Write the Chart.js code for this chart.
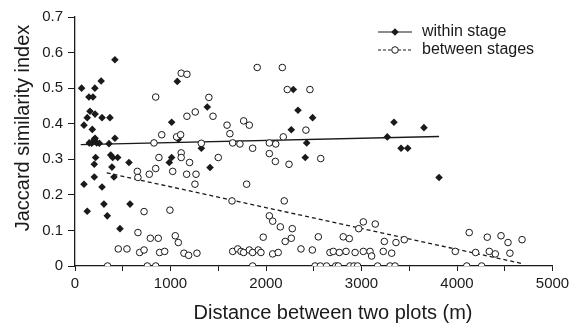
<!DOCTYPE html>
<html><head><meta charset="utf-8">
<script src="https://cdn.jsdelivr.net/npm/chart.js@4/dist/chart.umd.min.js"></script>
<style>html,body{margin:0;padding:0;background:#fff}</style>
</head><body>
<canvas id="c" width="574" height="325" style="width:574px;height:325px;display:block"></canvas>
<script>
// ---- data ----
const seriesNames = ['within stage', 'between stages'];
const axisTitles = ['Distance between two plots (m)', 'Jaccard similarity index'];
const xTickValues = [0, 1000, 2000, 3000, 4000, 5000];
const yTickValues = [0, 0.1, 0.2, 0.3, 0.4, 0.5, 0.6, 0.7];

const withinX = [69,418,274,208,146,188,157,210,128,283,366,94,181,210,418,149,175,202,227,255,356,216,202,374,395,447,387,565,202,408,94,283,303,576,128,338,471,
  1012,1071,1012,987,1082,1385,1323,1414,2286,2335,2265,2426,2411,2488,3340,3654,3270,3414,3484,3812];
const withinY = [0.50,0.58,0.52,0.50,0.475,0.475,0.435,0.427,0.417,0.417,0.417,0.396,0.384,0.359,0.359,0.346,0.345,0.356,0.346,0.345,0.344,0.305,0.286,0.312,0.305,0.305,0.278,0.291,0.250,0.250,0.230,0.222,0.174,0.174,0.154,0.141,0.105,
  0.404,0.519,0.305,0.291,0.356,0.447,0.331,0.277,0.496,0.438,0.383,0.346,0.305,0.417,0.404,0.389,0.363,0.331,0.331,0.249];

const betweenX = [845,1112,1172,1172,908,1064,1106,827,653,659,778,845,879,1023,1112,1112,1169,1200,
  723,994,659,789,872,1050,1082,453,544,677,723,886,939,1141,1190,341,757,845,
  1908,2171,2223,2460,1402,1259,1445,1592,1766,1825,1622,2181,2418,
  1323,1651,1727,1860,2035,2102,2035,2098,2241,1500,1267,1256,1797,1644,2191,2035,2070,2150,2275,1971,2265,2201,2366,
  1277,1651,1704,1738,1766,1825,1860,1919,1947,2070,2128,1860,
  2573,3019,3144,2971,2548,2809,2872,3239,3361,3448,2485,2670,2705,2768,2838,2933,3019,3089,3106,3228,3316,
  2513,2569,2634,2730,2757,2879,2921,2959,3169,3299,3351,
  4128,4317,4461,4534,4681,3982,4195,4338,4401,4554,4102,4258];
const betweenY = [0.475,0.542,0.539,0.421,0.369,0.363,0.369,0.346,0.266,0.249,0.258,0.274,0.305,0.266,0.318,0.305,0.258,0.291,
  0.153,0.157,0.094,0.078,0.078,0.085,0.066,0.048,0.048,0.038,0.045,0.038,0.041,0.036,0.030,0,0,0,
  0.558,0.558,0.496,0.496,0.474,0.433,0.421,0.396,0.408,0.396,0.372,0.363,0.382,
  0.345,0.346,0.343,0.331,0.346,0.343,0.316,0.294,0.286,0.305,0.258,0.230,0.230,0.183,0.183,0.141,0.126,0.110,0.105,0.081,0.078,0.069,0.048,
  0.036,0.041,0.048,0.041,0.038,0.045,0.038,0.045,0.038,0.034,0.038,0,
  0.302,0.124,0.118,0.105,0.082,0.082,0.077,0.069,0.066,0.074,0.045,0.038,0.041,0.038,0.041,0.038,0.041,0.041,0.028,0.041,0.036,
  0,0,0,0,0,0,0,0,0,0,0,
  0.094,0.081,0.085,0.066,0.074,0.041,0.038,0.041,0.034,0.036,0,0];

// fitted trend lines (end points)
const withinTrendX = [60, 3812];
const withinTrendY = [0.341, 0.364];
const betweenTrendX = [332, 4680];
const betweenTrendY = [0.262, 0.007];

const toPts = (xs, ys) => xs.map((x, i) => ({x, y: ys[i]}));
const INK = '#1a1a1a';
const FONT = "'Liberation Sans', Arial, sans-serif";

const legendPlugin = {
  id: 'customLegend',
  afterDraw(chart) {
    const ctx = chart.ctx;
    const rows = [
      {label: seriesNames[0], dash: [], style: 'diamond', y: 32},
      {label: seriesNames[1], dash: [3, 2], style: 'circle', y: 50}
    ];
    ctx.save();
    rows.forEach(r => {
      ctx.strokeStyle = INK; ctx.lineWidth = 1.2; ctx.setLineDash(r.dash);
      ctx.beginPath(); ctx.moveTo(378, r.y); ctx.lineTo(412, r.y); ctx.stroke();
      ctx.setLineDash([]);
      ctx.beginPath();
      if (r.style === 'diamond') {
        ctx.moveTo(395, r.y - 3.8); ctx.lineTo(398.8, r.y); ctx.lineTo(395, r.y + 3.8); ctx.lineTo(391.2, r.y); ctx.closePath();
        ctx.fillStyle = INK; ctx.fill();
      } else {
        ctx.arc(395, r.y, 3.3, 0, Math.PI * 2); ctx.fillStyle = '#fff'; ctx.fill(); ctx.lineWidth = 1; ctx.stroke();
      }
      ctx.fillStyle = INK; ctx.font = '16px ' + FONT; ctx.textBaseline = 'middle'; ctx.textAlign = 'left';
      ctx.fillText(r.label, 422, r.y);
    });
    // axis titles
    ctx.font = '20px ' + FONT; ctx.textAlign = 'center'; ctx.textBaseline = 'alphabetic';
    ctx.fillText(axisTitles[0], 333, 319);
    ctx.translate(29, 128); ctx.rotate(-Math.PI / 2);
    ctx.fillText(axisTitles[1], 0, 0);
    ctx.restore();
  }
};

new Chart(document.getElementById('c'), {
  type: 'scatter',
  data: {
    datasets: [
      {label: seriesNames[0], data: toPts(withinX, withinY), pointStyle: 'rectRot', pointRadius: 3.8, pointHoverRadius: 3.8,
       backgroundColor: INK, borderColor: INK, borderWidth: 0, order: 1},
      {label: seriesNames[1], data: toPts(betweenX, betweenY), pointStyle: 'circle', pointRadius: 3.3, pointHoverRadius: 3.3,
       backgroundColor: '#fff', borderColor: INK, borderWidth: 1, order: 0},
      {type: 'line', label: 'within trend', data: toPts(withinTrendX, withinTrendY), borderColor: INK, borderWidth: 1.3,
       pointRadius: 0, fill: false, order: 2},
      {type: 'line', label: 'between trend', data: toPts(betweenTrendX, betweenTrendY), borderColor: INK, borderWidth: 1.3,
       borderDash: [4, 3], pointRadius: 0, fill: false, order: 2}
    ]
  },
  options: {
    responsive: false, animation: false,
    layout: {padding: {top: 17, right: 21.5, left: 0, bottom: 0}},
    plugins: {legend: {display: false}, tooltip: {enabled: false}},
    scales: {
      x: {
        type: 'linear', min: 0, max: 5000,
        ticks: {stepSize: 500, color: INK, font: {family: FONT, size: 15}, padding: 4, maxRotation: 0, autoSkip: false,
          callback: v => xTickValues.includes(v) ? String(v) : ''},
        grid: {display: true, drawOnChartArea: false, drawTicks: true, tickLength: 5, color: INK, lineWidth: 1},
        border: {display: true, color: INK, width: 1.3},
        afterFit: s => { s.height = 59; s.paddingLeft = 0; s.paddingRight = 0; }
      },
      y: {
        min: 0, max: 0.7,
        ticks: {stepSize: 0.1, color: INK, font: {family: FONT, size: 15}, padding: 5,
          callback: v => { const t = yTickValues.find(q => Math.abs(q - v) < 1e-6); return t === undefined ? '' : (t === 0 ? '0' : t.toFixed(1)); }},
        grid: {display: true, drawOnChartArea: false, drawTicks: true, tickLength: 7, color: INK, lineWidth: 1},
        border: {display: true, color: INK, width: 1.3},
        afterFit: s => { s.width = 75; s.paddingTop = 0; s.paddingBottom = 0; }
      }
    }
  },
  plugins: [legendPlugin]
});
</script>
</body></html>
